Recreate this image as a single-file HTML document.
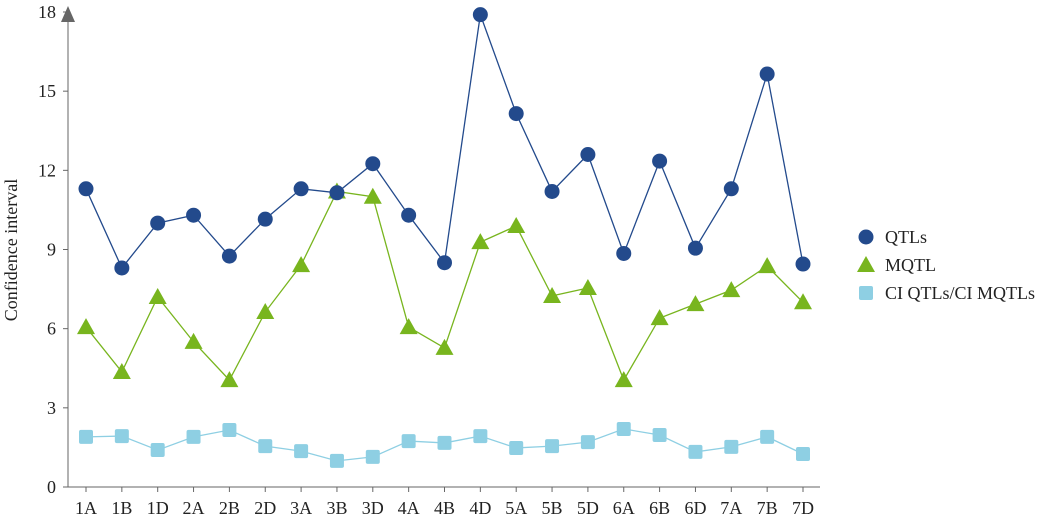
<!DOCTYPE html>
<html><head><meta charset="utf-8"><style>
body{margin:0;background:#fff}
svg{display:block;font-family:"Liberation Serif",serif}
</style></head><body>
<svg id="chart" width="1059" height="522" viewBox="0 0 1059 522" xmlns="http://www.w3.org/2000/svg">
<g id="axes"></g>
<g id="series"></g>
<g id="legend"></g>
<text transform="translate(17,250) rotate(-90)" text-anchor="middle" font-size="18" fill="#222">Confidence interval</text>
</svg>
<script>
const categories=["1A","1B","1D","2A","2B","2D","3A","3B","3D","4A","4B","4D","5A","5B","5D","6A","6B","6D","7A","7B","7D"];
const qtls=[11.3,8.3,10.0,10.3,8.75,10.15,11.3,11.15,12.25,10.3,8.5,17.9,14.15,11.2,12.6,8.85,12.35,9.05,11.3,15.65,8.45];
const mqtl=[6.06,4.36,7.2,5.5,4.05,6.63,8.41,11.2,11.0,6.06,5.27,9.28,9.89,7.24,7.54,4.05,6.4,6.93,7.46,8.37,7.0];
const ciRatio=[1.9,1.93,1.4,1.9,2.16,1.55,1.36,0.99,1.14,1.74,1.67,1.93,1.48,1.55,1.7,2.2,1.97,1.33,1.52,1.9,1.25];
const yTicks=[0,3,6,9,12,15,18];
const NS="http://www.w3.org/2000/svg";
const y=v=>487-v*(475/18);
const x=i=>86+i*(717/20);
function mk(tag,attrs,parent){const e=document.createElementNS(NS,tag);for(const k in attrs)e.setAttribute(k,attrs[k]);parent.appendChild(e);return e;}
const axes=document.getElementById('axes');
let a=mk('line',{x1:68,y1:487,x2:820,y2:487,stroke:'#666','stroke-width':1},axes);


a=mk('line',{x1:68,y1:487,x2:68,y2:14,stroke:'#666','stroke-width':1},axes);


a=mk('path',{d:'M61,22 L68,6 L75,22 Z',fill:'#666'},axes);


yTicks.forEach(t=>{
  const tk=mk('line',{x1:63,x2:68,y1:y(t),y2:y(t),stroke:'#666'},axes);
  
  
  const tx=mk('text',{x:56,y:y(t)+6,'text-anchor':'end','font-size':18,fill:'#222'},axes);
  tx.textContent=t;
  
  
});
categories.forEach((c,i)=>{
  const tk=mk('line',{x1:x(i),x2:x(i),y1:487,y2:492,stroke:'#666'},axes);
  
  
  const tx=mk('text',{x:x(i),y:514,'text-anchor':'middle','font-size':18,fill:'#222'},axes);
  tx.textContent=c;
  
  
});
const S=document.getElementById('series');
function line(vals,color,name){
  const p=mk('polyline',{points:vals.map((v,i)=>x(i)+','+y(v)).join(' '),fill:'none',stroke:color,'stroke-width':1.3},S);
  
  
}
function marker(type,cx,cy,color,parent){
  let m;
  if(type==='circle')m=mk('circle',{cx:cx,cy:cy,r:7.5,fill:color},parent);
  else if(type==='tri')m=mk('path',{d:`M${cx},${cy-9} L${cx+9},${cy+7} L${cx-9},${cy+7} Z`,fill:color},parent);
  else m=mk('rect',{x:cx-7,y:cy-7,width:14,height:14,rx:2,fill:color},parent);
  return m;
}
const defs=[[ciRatio,'#8ecfe3','sq','ci-ratio'],[mqtl,'#78b51e','tri','mqtl'],[qtls,'#234a8c','circle','qtls']];
defs.forEach(([vals,col,type,name])=>{
  line(vals,col,name);
  vals.forEach((v,i)=>{
    const m=marker(type,x(i),y(v),col,S);
    
    
  });
});
const L=document.getElementById('legend');
[['QTLs','#234a8c','circle',237],['MQTL','#78b51e','tri',265],['CI QTLs/CI MQTLs','#8ecfe3','sq',293]].forEach(([t,c,type,ly])=>{
  const m=marker(type,866,ly,c,L);
  
  
  const tx=mk('text',{x:885,y:ly+6,'font-size':18,fill:'#222'},L);
  tx.textContent=t;
  
  
});
</script>
</body></html>
